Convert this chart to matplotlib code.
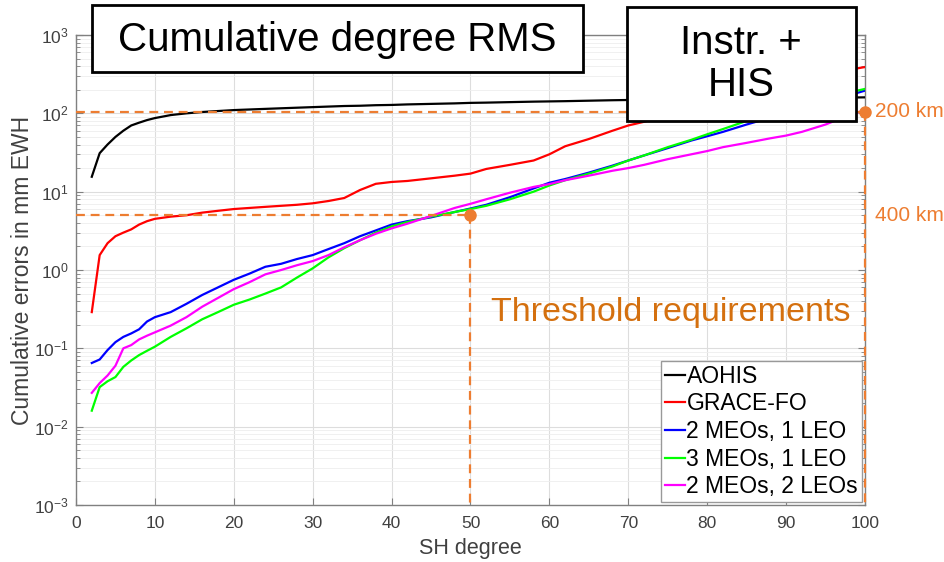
import matplotlib
matplotlib.use("Agg")
import matplotlib.pyplot as plt
from matplotlib.patches import Rectangle
from matplotlib.transforms import blended_transform_factory
from matplotlib.ticker import FixedLocator, NullFormatter

plt.rcParams['font.family'] = ['Liberation Sans', 'DejaVu Sans']
plt.rcParams['mathtext.fontset'] = 'custom'
plt.rcParams['mathtext.rm'] = 'Liberation Sans'
plt.rcParams['mathtext.it'] = 'Liberation Sans'

# ---------------- data ----------------
degrees = [2, 3, 4, 5, 6, 7, 8, 9, 10, 12, 14, 16, 18, 20, 22, 24, 26, 28, 30, 32, 34, 36, 38, 40,
           42, 45, 48, 50, 52, 55, 58, 60, 62, 65, 68, 70, 72, 75, 78, 80, 82, 85, 88, 90, 92,
           95, 98, 100]

aohis = [15.5, 31, 40, 50, 60, 70, 76, 82, 87, 95, 100, 104, 107, 110, 112, 114, 116, 118, 120,
         122, 124, 125, 127, 128, 130, 132, 134, 136, 137, 139, 141, 142, 143, 145, 147, 148,
         149, 151, 152, 153, 154, 155, 156, 157, 157, 158, 159, 160]

grace_fo = [0.29, 1.55, 2.2, 2.7, 3.0, 3.3, 3.8, 4.2, 4.5, 4.8, 5.0, 5.4, 5.7, 6.0, 6.2, 6.4,
            6.6, 6.8, 7.1, 7.6, 8.3, 10.5, 12.6, 13.3, 13.7, 14.8, 16, 17, 19.5, 22, 25, 30,
            38, 47, 60, 70, 78, 95, 115, 130, 150, 180, 215, 240, 270, 310, 360, 390]

meo2_leo1 = [0.065, 0.072, 0.095, 0.12, 0.14, 0.155, 0.175, 0.22, 0.25, 0.29, 0.37, 0.48, 0.6,
             0.75, 0.9, 1.1, 1.2, 1.38, 1.55, 1.85, 2.2, 2.7, 3.2, 3.8, 4.2, 4.7, 5.5, 6.1, 6.8,
             8.5, 11, 13, 14.5, 17.5, 21.5, 25, 29, 36, 45, 51, 58, 72, 88, 100, 115, 140,
             170, 195]

meo3_leo1 = [0.016, 0.032, 0.038, 0.043, 0.058, 0.07, 0.082, 0.093, 0.105, 0.14, 0.18, 0.235,
             0.29, 0.36, 0.42, 0.5, 0.6, 0.8, 1.05, 1.45, 1.9, 2.4, 3.0, 3.6, 4.1, 4.8, 5.5,
             6.0, 6.6, 8.0, 10, 12, 14, 17, 21, 25, 29, 37, 46, 54, 63, 80, 100, 115, 130,
             155, 185, 205]

meo2_leo2 = [0.027, 0.036, 0.045, 0.06, 0.1, 0.11, 0.13, 0.145, 0.16, 0.195, 0.25, 0.34, 0.44,
             0.57, 0.7, 0.88, 1.0, 1.15, 1.3, 1.55, 1.95, 2.4, 2.9, 3.4, 3.9, 4.9, 6.2, 7.0,
             8.0, 9.7, 11.5, 12.5, 14, 16, 18.5, 20, 22, 26, 30, 33, 37, 42, 48, 52, 58, 72,
             95, 110]

series_labels = ['AOHIS', 'GRACE-FO', '2 MEOs, 1 LEO', '3 MEOs, 1 LEO', '2 MEOs, 2 LEOs']
series_colors = ['#000000', '#FF0000', '#0000FF', '#00FF00', '#FF00FF']

req_levels = [105, 5.0]          # threshold levels (mm EWH)
req_degrees = [100, 50]          # corresponding SH degrees
req_labels = ['200 km', '400 km']

x_ticks = [0, 10, 20, 30, 40, 50, 60, 70, 80, 90, 100]
y_exponents = [-3, -2, -1, 0, 1, 2, 3]

# ---------------- figure ----------------
W, H = 945, 562
fig = plt.figure(figsize=(W / 100, H / 100), dpi=100)
ax = fig.add_axes([76 / W, 1 - 505 / H, (865 - 76) / W, (505 - 35) / H])

for vals, lab, col in zip([aohis, grace_fo, meo2_leo1, meo3_leo1, meo2_leo2],
                          series_labels, series_colors):
    ax.plot(degrees, vals, color=col, lw=1.6, label=lab, zorder=3)

ax.set_yscale('log')
ax.set_xlim(0, 100)
ax.set_ylim(1e-3, 1e3)
ax.xaxis.set_major_locator(FixedLocator(x_ticks))
y_major = [10.0 ** e for e in y_exponents]
y_minor = [m * 10.0 ** e for e in y_exponents[:-1] for m in range(2, 10)]
ax.yaxis.set_major_locator(FixedLocator(y_major))
ax.set_yticklabels([r'$10^{%d}$' % e for e in y_exponents])
ax.yaxis.set_minor_locator(FixedLocator(y_minor))
ax.yaxis.set_minor_formatter(NullFormatter())

axis_gray = '#808080'
for sp in ax.spines.values():
    sp.set_color(axis_gray)
    sp.set_linewidth(1.0)
ax.tick_params(which='both', direction='in', top=True, right=True, colors=axis_gray,
               labelcolor='#404040', labelsize=12.5)
ax.tick_params(axis='x', which='major', pad=8)
ax.tick_params(axis='y', which='major', pad=5)
ax.tick_params(which='major', length=5)
ax.tick_params(which='minor', length=3)
ax.grid(which='major', color='#DDDDDD', lw=0.8)
ax.grid(which='minor', axis='y', color='#EEEEEE', lw=0.6)
ax.set_axisbelow(True)

ax.set_xlabel('SH degree', fontsize=15.5, color='#404040', labelpad=5)
ax.set_ylabel('Cumulative errors in mm EWH', fontsize=16.5, color='#404040')
ax.yaxis.set_label_coords((34 - 76) / 789, 0.5)

# threshold requirement markers
orange = '#ED7D31'
for lvl, deg in zip(req_levels, req_degrees):
    ax.plot([0, deg], [lvl, lvl], color=orange, ls=(0, (4, 2.6)), lw=1.6, zorder=4,
            clip_on=False)
    ax.plot([deg, deg], [lvl, 1e-3], color=orange, ls=(0, (4, 2.6)), lw=1.6, zorder=4,
            clip_on=False)
    ax.plot([deg], [lvl], 'o', color=orange, ms=8, zorder=5, clip_on=False)
trans = blended_transform_factory(ax.transAxes, ax.transData)
for lvl, lab in zip(req_levels, req_labels):
    ax.text(1.013, lvl, lab, transform=trans, color=orange, fontsize=15,
            va='center', ha='left')
ax.text(0.981, 0.41, 'Threshold requirements', transform=ax.transAxes, color='#D4700F',
        fontsize=24.5, va='center', ha='right')

leg = ax.legend(loc='lower right', fontsize=16.5, handlelength=0.9, handletextpad=0.05,
                borderpad=0.15, labelspacing=0.2, fancybox=False, framealpha=1,
                edgecolor='#999999', borderaxespad=0.15)
leg.get_frame().set_linewidth(1.0)
leg.set_zorder(6)

# title boxes (pixel rectangles)
def px_box(x0, y0, x1, y1):
    fig.add_artist(Rectangle((x0 / W, 1 - y1 / H), (x1 - x0) / W, (y1 - y0) / H,
                             transform=fig.transFigure, fc='white', ec='black', lw=2.0,
                             zorder=10))

px_box(92, 5, 583, 72)
fig.text(337 / W, 1 - 40 / H, 'Cumulative degree RMS', fontsize=29, ha='center',
         va='center', zorder=11)
px_box(627, 7, 856, 121)
fig.text(741 / W, 1 - 64 / H, 'Instr. +\nHIS', fontsize=29, ha='center', va='center',
         linespacing=1.15, zorder=11)

fig.savefig('out.png', dpi=100)
